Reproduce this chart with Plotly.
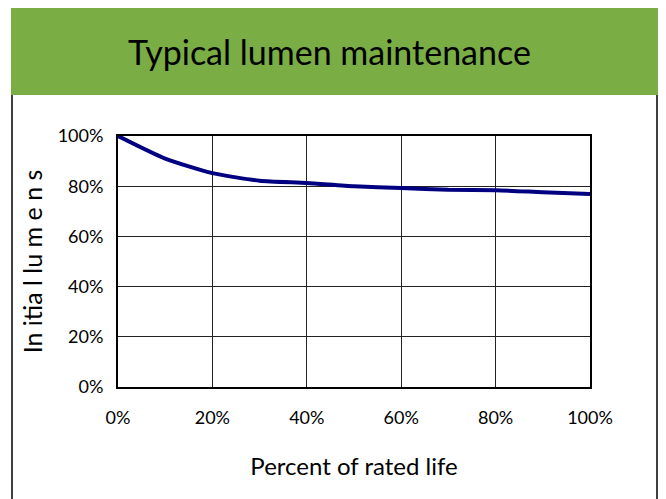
import plotly.graph_objects as go

life_pct = [0, 10, 20, 30, 40, 50, 60, 70, 80, 90, 100]
lumens_pct = [100, 91, 85.2, 82.2, 81.3, 80.0, 79.3, 78.6, 78.4, 77.6, 76.9]
tick_vals = [0, 20, 40, 60, 80, 100]
tick_text = ["0%", "20%", "40%", "60%", "80%", "100%"]

FONT = "Lato, Roboto, sans-serif"

# page body has an 8px margin; compensate so the plot area lands at 118..590 x 136..387
W, H = 658, 491
L, R, T, B = 110, 76, 128, 112
pw, ph = W - L - R, H - T - B

def px(x):  # window pixel x -> paper x
    return (x - 8 - L) / pw

def py(y):  # window pixel y -> paper y
    return (H - B - (y - 8)) / ph

fig = go.Figure()
fig.add_trace(go.Scatter(x=life_pct, y=lumens_pct, mode="lines",
                         line=dict(color="#000080", width=4, shape="spline", smoothing=0.6),
                         showlegend=False, hoverinfo="skip"))

fig.update_layout(
    width=W, height=H,
    paper_bgcolor="white", plot_bgcolor="white",
    margin=dict(l=L, r=R, t=T, b=B),
    font=dict(family=FONT, color="black", size=17),
    shapes=[
        dict(type="rect", xref="paper", yref="paper", layer="below",
             x0=px(11), x1=px(658), y0=py(95), y1=py(6),
             fillcolor="#7AAD44", line=dict(width=0)),
        dict(type="line", xref="paper", yref="paper",
             x0=px(12), x1=px(12), y0=py(95), y1=py(520),
             line=dict(color="black", width=1.5)),
        dict(type="line", xref="paper", yref="paper",
             x0=px(657), x1=px(657), y0=py(95), y1=py(520),
             line=dict(color="black", width=1.5)),
    ],
    annotations=[
        dict(text="Typical lumen maintenance", xref="paper", yref="paper",
             x=px(329), y=py(51), showarrow=False,
             font=dict(family=FONT, size=34, color="black"),
             xanchor="center", yanchor="middle"),
    ],
)

fig.update_xaxes(range=[0, 100], tickvals=tick_vals, ticktext=tick_text,
                 showgrid=True, gridcolor="#222", gridwidth=1,
                 showline=True, linecolor="black", linewidth=2, mirror=True,
                 zeroline=False, ticks="", ticklabelstandoff=13,
                 tickfont=dict(size=18),
                 title=dict(text="Percent of rated life", font=dict(size=24), standoff=32))
fig.update_yaxes(range=[0, 100], tickvals=tick_vals, ticktext=tick_text,
                 showgrid=True, gridcolor="#222", gridwidth=1,
                 showline=True, linecolor="black", linewidth=2, mirror=True,
                 zeroline=False, ticks="", ticklabelstandoff=9,
                 tickfont=dict(size=18),
                 title=dict(text="In itia l lu m e n s", font=dict(size=25), standoff=8))

fig.write_html("out.html")
